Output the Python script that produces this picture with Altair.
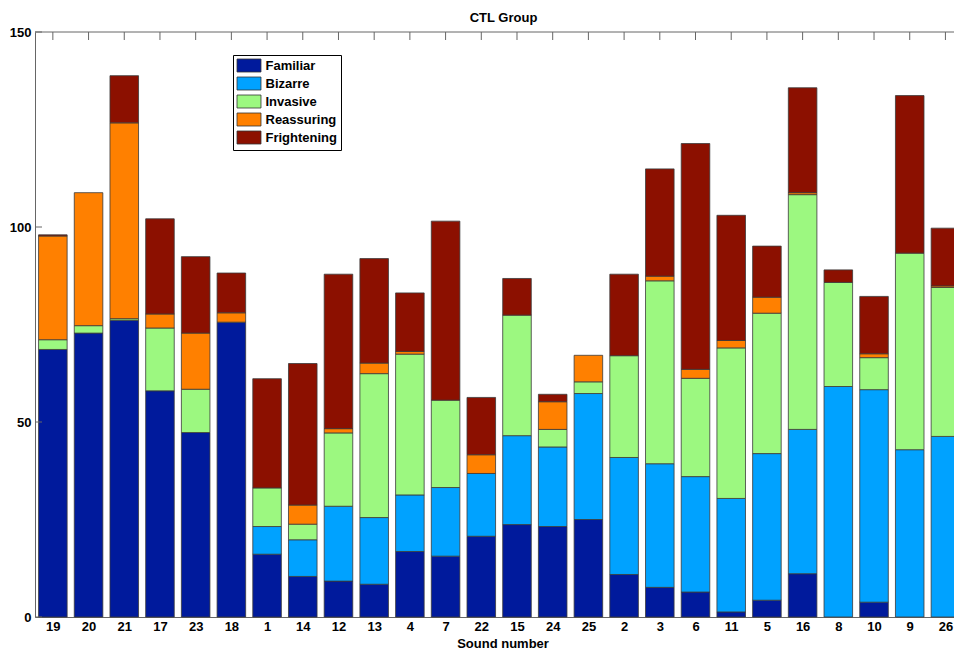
import altair as alt
import pandas as pd

sounds = ["19", "20", "21", "17", "23", "18", "1", "14", "12", "13", "4", "7", "22",
          "15", "24", "25", "2", "3", "6", "11", "5", "16", "8", "10", "9", "26"]

familiar = [68.6, 72.8, 76.1, 58.0, 47.3, 75.6, 16.1, 10.4, 9.2, 8.4, 16.8, 15.6, 20.7,
            23.7, 23.2, 25.0, 10.9, 7.6, 6.4, 1.3, 4.3, 11.1, 0.0, 3.8, 0.0, 0.0]
bizarre = [0.0, 0.0, 0.0, 0.0, 0.0, 0.0, 7.1, 9.4, 19.2, 17.1, 14.5, 17.6, 16.1,
           22.8, 20.4, 32.3, 30.0, 31.7, 29.6, 29.1, 37.6, 37.0, 59.1, 54.5, 42.9, 46.3]
invasive = [2.5, 1.9, 0.4, 16.1, 11.1, 0.0, 9.9, 4.0, 18.8, 36.9, 36.1, 22.4, 0.0,
            30.9, 4.5, 3.0, 26.1, 46.9, 25.2, 38.6, 36.0, 60.2, 26.7, 8.2, 50.4, 38.2]
reassuring = [26.6, 34.1, 50.2, 3.6, 14.4, 2.4, 0.0, 4.9, 1.1, 2.7, 0.7, 0.0, 4.8,
              0.0, 7.1, 6.8, 0.0, 1.2, 2.3, 1.9, 4.1, 0.5, 0.0, 1.0, 0.0, 0.4]
frightening = [0.3, 0.0, 12.1, 24.4, 19.6, 10.2, 28.0, 36.3, 39.6, 26.8, 15.0, 45.9, 14.7,
               9.4, 1.9, 0.0, 20.9, 27.5, 57.9, 32.1, 13.1, 26.9, 3.2, 14.7, 40.4, 14.8]

categories = ["Familiar", "Bizarre", "Invasive", "Reassuring", "Frightening"]
colors = ["#001a9c", "#00a2ff", "#9cf880", "#ff8000", "#8c1000"]
y_ticks = [0, 50, 100, 150]

series = [familiar, bizarre, invasive, reassuring, frightening]
rows = []
for i, s in enumerate(sounds):
    for k, (cat, vals) in enumerate(zip(categories, series)):
        rows.append({"pos": i + 1, "sound": s, "category": cat, "order": k, "value": vals[i]})
df = pd.DataFrame(rows)
# helper tables use the same field names as the bars so that all layers share one axis
toptick_df = pd.DataFrame({"x0": list(range(1, len(sounds) + 1))})
ytick_df = pd.DataFrame({"y0": y_ticks})
frame_df = pd.DataFrame({"x0": [0.5], "x1": [26.5], "y0": [150]})

FONT = "Liberation Sans"
AX = "#666666"
xscale = alt.Scale(domain=[0.5, 26.24], nice=False, zero=False)
yscale = alt.Scale(domain=[0, 150], nice=False, zero=True)

label_expr = "[''," + ",".join("'%s'" % s for s in sounds) + "][datum.value]"

x_axis = alt.Axis(values=list(range(1, 27)), labelExpr=label_expr, title="Sound number",
                  ticks=False, grid=False, domain=True, domainColor=AX, labelPadding=3,
                  labelFont=FONT, labelFontSize=13, labelFontWeight="bold", labelColor="black",
                  labelFlush=False, labelOverlap=False, labelBound=False, labelSeparation=0,
                  titleFont=FONT, titleFontSize=13, titleFontWeight="bold", titleColor="black",
                  titleX=467.5, titleY=20, titleBaseline="top")
y_axis = alt.Axis(values=y_ticks, ticks=False, grid=False, title=None, domain=True,
                  domainColor=AX, labelPadding=4, labelFont=FONT, labelFontSize=13,
                  labelFontWeight="bold", labelColor="black", labelOverlap=False)

bars = alt.Chart(df).transform_stack(
    stack="value", as_=["y0", "y1"], groupby=["pos"], sort=[alt.SortField("order")]
).transform_filter("datum.value > 0").transform_calculate(
    x0="datum.pos - 0.4", x1="datum.pos + 0.4"
).mark_bar(stroke="#3a3a3a", strokeWidth=0.8, opacity=1).encode(
    x=alt.X("x0:Q", scale=xscale, axis=x_axis),
    x2="x1:Q",
    y=alt.Y("y0:Q", scale=yscale, axis=y_axis),
    y2="y1:Q",
    color=alt.Color("category:N", scale=alt.Scale(domain=categories, range=colors),
                    legend=alt.Legend(title=None, orient="none", legendX=198, legendY=23,
                                      symbolType="M-1,-1H2.69V1H-1Z", symbolSize=169,
                                      symbolStrokeColor="#333333", symbolStrokeWidth=0.8,
                                      symbolOpacity=1, labelFont=FONT, labelFontSize=13,
                                      labelFontWeight="bold", labelColor="black", labelOffset=15,
                                      rowPadding=0, padding=3.5, strokeColor="black",
                                      fillColor="white", cornerRadius=0)),
)

top_ticks = alt.Chart(toptick_df).mark_rule(color=AX, strokeWidth=1).encode(
    x=alt.X("x0:Q", scale=xscale, axis=x_axis),
    y=alt.value(0),
    y2=alt.value(8),
)

top_line = alt.Chart(frame_df).mark_rule(color=AX, strokeWidth=1).encode(
    x=alt.X("x0:Q", scale=xscale, axis=x_axis),
    x2="x1:Q",
    y=alt.Y("y0:Q", scale=yscale, axis=y_axis),
)

left_ticks = alt.Chart(ytick_df).mark_rule(color=AX, strokeWidth=1).encode(
    y=alt.Y("y0:Q", scale=yscale, axis=y_axis),
    x=alt.value(0),
    x2=alt.value(7),
)

chart = alt.layer(bars, top_ticks, top_line, left_ticks).properties(
    width=919, height=585,
    autosize=alt.AutoSizeParams(type="none"),
    padding={"left": 27, "top": 24, "right": 0, "bottom": 36},
    background="white",
    title=alt.TitleParams("CTL Group", font=FONT, fontSize=13, fontWeight="bold", color="black",
                          offset=1, dx=9, anchor="middle", frame="group"),
).configure_view(stroke=None).configure_axisX(labelOverlap=False)

chart.save("out.html", embed_options={"renderer": "svg", "actions": False})
